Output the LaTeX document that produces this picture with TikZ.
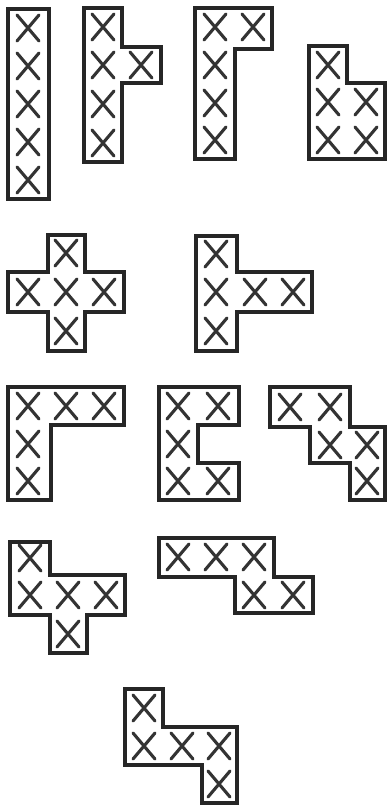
\documentclass[tikz,border=0pt]{standalone}
\begin{document}
\begin{tikzpicture}[x=1pt,y=-1pt,
  outline/.style={draw=black!85,line width=3.6pt,line join=miter},
  xstroke/.style={draw=black!80,line width=3.1pt,line cap=round},
  xmk/.pic={\draw[xstroke] (-11,-13)--(11,13) (11,-13)--(-11,13);}]
\useasboundingbox (0,0) rectangle (387,805);
% I
\draw[outline] (8,9) rectangle (49,199);
\foreach \y in {28,66,104,142,180} \pic at (28,\y) {xmk};
% Y
\draw[outline] (84,8)--(122,8)--(122,47)--(161,47)--(161,83)--(122,83)--(122,162)--(84,162)--cycle;
\foreach \p in {(103,27),(103,65),(103,104),(103,143),(141,65)} \pic at \p {xmk};
% L
\draw[outline] (195,8)--(272,8)--(272,49)--(235,49)--(235,159)--(195,159)--cycle;
\foreach \p in {(215,27),(253,27),(215,65),(215,103),(215,140)} \pic at \p {xmk};
% P
\draw[outline] (309,46)--(347,46)--(347,83)--(385,83)--(385,159)--(309,159)--cycle;
\foreach \p in {(328,65),(328,102),(366,102),(328,140),(366,140)} \pic at \p {xmk};
% X
\draw[outline] (48,235)--(85,235)--(85,272)--(124,272)--(124,312)--(85,312)--(85,351)--(48,351)--(48,312)--(8,312)--(8,272)--(48,272)--cycle;
\foreach \p in {(66,253),(28,292),(66,292),(104,292),(66,331)} \pic at \p {xmk};
% T
\draw[outline] (196,236)--(237,236)--(237,272)--(312,272)--(312,312)--(237,312)--(237,351)--(196,351)--cycle;
\foreach \p in {(216,254),(216,292),(216,331),(255,292),(293,292)} \pic at \p {xmk};
% V
\draw[outline] (8,387)--(124,387)--(124,425)--(51,425)--(51,500)--(8,500)--cycle;
\foreach \p in {(28,406),(66,406),(104,406),(28,444),(28,481)} \pic at \p {xmk};
% U
\draw[outline] (159,387)--(239,387)--(239,425)--(198,425)--(198,463)--(239,463)--(239,500)--(159,500)--cycle;
\foreach \p in {(178,406),(218,406),(178,444),(178,481),(218,481)} \pic at \p {xmk};
% W
\draw[outline] (270,387)--(350,387)--(350,427)--(385,427)--(385,500)--(350,500)--(350,463)--(310,463)--(310,427)--(270,427)--cycle;
\foreach \p in {(290,407),(330,407),(330,445),(367,445),(367,481)} \pic at \p {xmk};
% F
\draw[outline] (10,542)--(50,542)--(50,575)--(125,575)--(125,615)--(87,615)--(87,653)--(50,653)--(50,615)--(10,615)--cycle;
\foreach \p in {(30,558),(30,595),(68,595),(106,595),(68,634)} \pic at \p {xmk};
% N
\draw[outline] (159,538)--(274,538)--(274,577)--(313,577)--(313,613)--(235,613)--(235,577)--(159,577)--cycle;
\foreach \p in {(178,557),(216,557),(254,557),(254,595),(293,595)} \pic at \p {xmk};
% Z
\draw[outline] (125,689)--(163,689)--(163,727)--(237,727)--(237,803)--(202,803)--(202,765)--(125,765)--cycle;
\foreach \p in {(144,708),(144,746),(182,746),(219,746),(219,784)} \pic at \p {xmk};
\end{tikzpicture}
\end{document}
